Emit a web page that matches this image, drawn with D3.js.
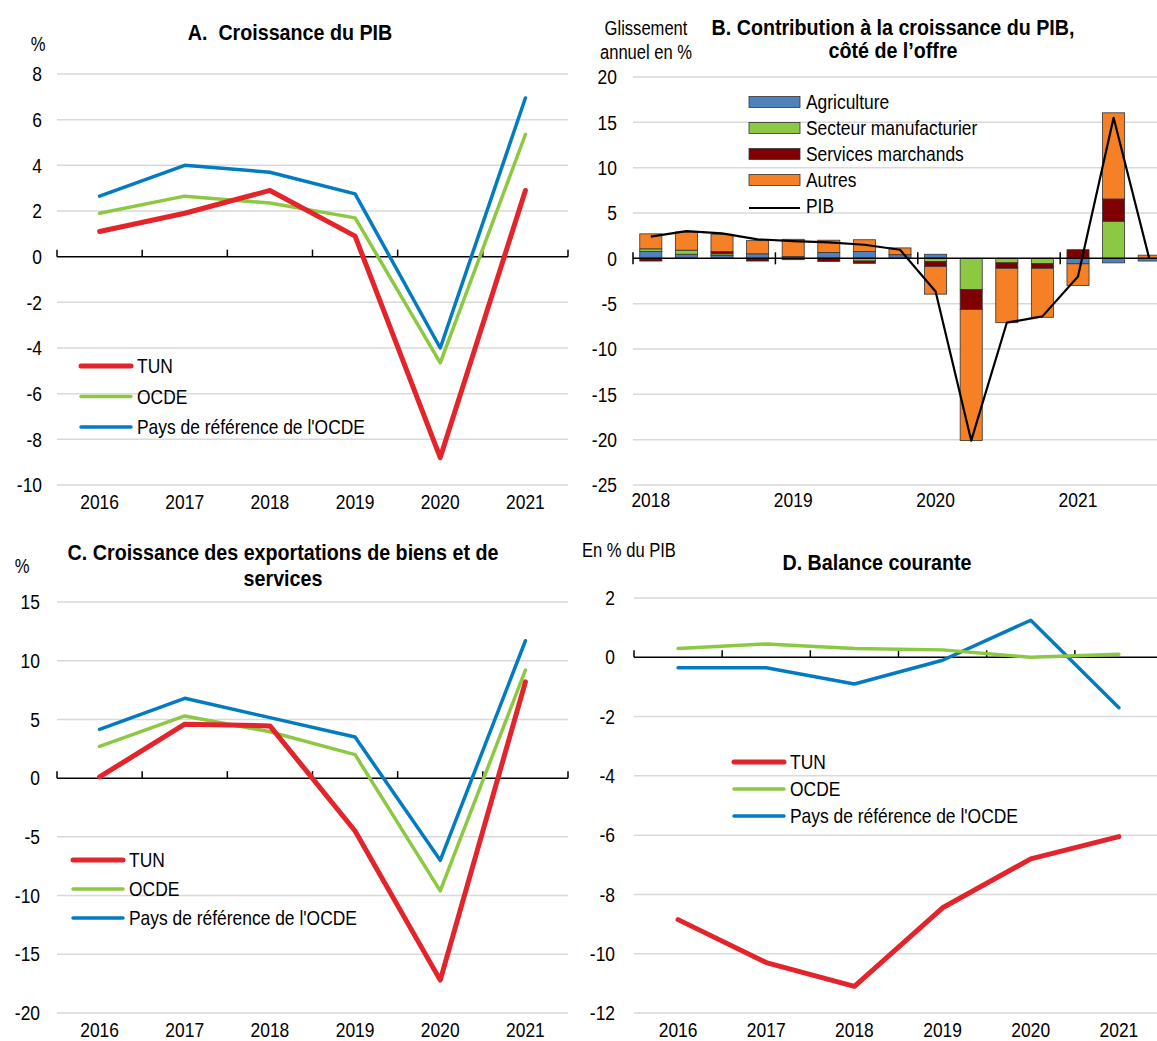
<!DOCTYPE html>
<html>
<head>
<meta charset="utf-8">
<script src="https://cdn.jsdelivr.net/npm/d3@7"></script>
<style>
  body { margin: 0; background: #fff; }
  svg { display: block; font-family: "Liberation Sans Narrow", "Arial Narrow", "Liberation Sans", Arial, sans-serif; }
  text { white-space: pre; }
</style>
</head>
<body>
<script>
// ---- Data ----
const years = ["2016", "2017", "2018", "2019", "2020", "2021"];
const seriesNames = ["TUN", "OCDE", "Pays de référence de l'OCDE"];

// A. Croissance du PIB (%)
const gdpTUN = [1.1, 1.9, 2.9, 0.9, -8.8, 2.9];
const gdpOCDE = [1.9, 2.65, 2.35, 1.7, -4.65, 5.35];
const gdpRef = [2.65, 4.0, 3.7, 2.75, -4.0, 6.95];

// C. Croissance des exportations (%)
const expTUN = [0.1, 4.6, 4.45, -4.5, -17.2, 8.2];
const expOCDE = [2.7, 5.3, 3.95, 2.0, -9.6, 9.2];
const expRef = [4.15, 6.8, 5.15, 3.5, -7.0, 11.7];

// D. Balance courante (% du PIB)
const caTUN = [-8.85, -10.3, -11.1, -8.45, -6.8, -6.05];
const caOCDE = [0.3, 0.45, 0.3, 0.25, 0.0, 0.1];
const caRef = [-0.35, -0.35, -0.9, -0.1, 1.25, -1.7];

// B. Contributions trimestrielles
const quarters = ["2018T1", "2018T2", "2018T3", "2018T4", "2019T1", "2019T2", "2019T3", "2019T4",
  "2020T1", "2020T2", "2020T3", "2020T4", "2021T1", "2021T2", "2021T3"];
const quarterYears = ["2018", "2019", "2020", "2021"];
const agriculture = [0.75, 0.45, 0.3, 0.5, 0.05, 0.65, 0.75, 0.4, 0.45, 0, 0, 0, -0.6, -0.5, -0.3];
const manufacturier = [0.3, 0.45, 0.2, 0, 0.15, 0, -0.3, 0, -0.35, -3.45, -0.5, -0.6, 0, 4.1, 0];
const services = [-0.3, 0, 0.25, -0.3, -0.15, -0.35, -0.25, 0, -0.55, -2.2, -0.6, -0.5, 0.95, 2.45, 0];
const autres = [1.65, 2.0, 1.9, 1.45, 1.9, 1.35, 1.3, 0.75, -3.05, -14.45, -6.0, -5.4, -2.4, 9.5, 0.35];
const pib = [2.4, 3.0, 2.75, 2.1, 1.9, 1.75, 1.5, 0.95, -3.65, -20.1, -7.1, -6.4, -2.0, 15.5, 0.0];
const componentNames = ["Agriculture", "Secteur manufacturier", "Services marchands", "Autres"];

// ---- Style ----
const width = 1157, height = 1041;
const lineColors = ["#E3242B", "#8CC841", "#037BC1"];
const lineWidths = [5, 3.5, 3.5];
const barColors = ["#4F81BD", "#8CC841", "#7F0000", "#F58025"];
const gridColor = "#d9d9d9";
const fontSize = 20.5;
const titleSize = 22;
const squeeze = 0.85;      // no narrow font installed, so squeeze text horizontally
const titleSqueeze = 0.895;

const svg = d3.select("body").append("svg")
  .attr("width", width)
  .attr("height", height);

// place text with a horizontal squeeze (mimics Arial Narrow)
function place(sel, fx, fy, sx = squeeze) {
  const fxv = typeof fx === "function" ? fx : () => fx;
  const fyv = typeof fy === "function" ? fy : () => fy;
  return sel.attr("transform", (d, i) => `translate(${fxv(d, i)},${fyv(d, i)}) scale(${sx},1)`)
    .attr("dy", "0.35em");
}

// Generic line panel (A, C, D)
function linePanel(cfg) {
  const g = svg.append("g");

  const x = d3.scaleBand().domain(years).range([cfg.left, cfg.right]);
  const y = d3.scaleLinear().domain(cfg.domain).range([cfg.bottom, cfg.top]);

  // gridlines
  g.append("g")
    .selectAll("line")
    .data(cfg.ticks.filter(t => t !== 0))
    .join("line")
    .attr("x1", cfg.left).attr("x2", Math.min(cfg.right, width))
    .attr("y1", d => y(d)).attr("y2", d => y(d))
    .attr("stroke", gridColor)
    .attr("stroke-width", 1.5);

  // y labels
  g.append("g")
    .selectAll("text")
    .data(cfg.ticks)
    .join("text")
    .call(place, cfg.labelRight, d => y(d))
    .attr("text-anchor", "end")
    .attr("font-size", fontSize)
    .text(d => d);

  // zero axis + ticks
  g.append("line")
    .attr("x1", cfg.left).attr("x2", cfg.right)
    .attr("y1", y(0)).attr("y2", y(0))
    .attr("stroke", "#000")
    .attr("stroke-width", 1.5);

  const bounds = years.map(d => x(d)).concat([cfg.right]);
  g.append("g")
    .selectAll("line")
    .data(bounds)
    .join("line")
    .attr("x1", d => d).attr("x2", d => d)
    .attr("y1", y(0)).attr("y2", y(0) - 7)
    .attr("stroke", "#000")
    .attr("stroke-width", 1.5);

  // x labels
  g.append("g")
    .selectAll("text")
    .data(years)
    .join("text")
    .call(place, d => x(d) + x.bandwidth() / 2, cfg.xLabelY)
    .attr("text-anchor", "middle")
    .attr("font-size", fontSize)
    .text(d => d);

  // lines (draw blue, green, then red on top)
  const line = d3.line()
    .x((d, i) => x(years[i]) + x.bandwidth() / 2)
    .y(d => y(d));

  [2, 1, 0].forEach(k => {
    g.append("path")
      .datum(cfg.series[k])
      .attr("d", line)
      .attr("fill", "none")
      .attr("stroke", lineColors[k])
      .attr("stroke-width", lineWidths[k])
      .attr("stroke-linejoin", "round")
      .attr("stroke-linecap", "round");
  });

  // legend
  const leg = g.append("g")
    .selectAll("g")
    .data(seriesNames)
    .join("g")
    .attr("transform", (d, i) => `translate(${cfg.legX}, ${cfg.legY + i * cfg.legStep})`);

  leg.append("line")
    .attr("x1", 0).attr("x2", 50)
    .attr("stroke", (d, i) => lineColors[i])
    .attr("stroke-width", (d, i) => lineWidths[i])
    .attr("stroke-linecap", "round");

  leg.append("text")
    .call(place, 56, 0)
    .attr("font-size", fontSize)
    .text(d => d);

  // title
  g.append("g")
    .selectAll("text")
    .data(cfg.title)
    .join("text")
    .call(place, cfg.titleX, (d, i) => cfg.titleY + i * 26, titleSqueeze)
    .attr("text-anchor", "middle")
    .attr("font-size", titleSize)
    .attr("font-weight", "bold")
    .text(d => d);

  // unit label
  g.append("text")
    .call(place, cfg.unitX, cfg.unitY)
    .attr("text-anchor", cfg.unitAnchor || "middle")
    .attr("font-size", fontSize - 1)
    .text(cfg.unit);
}

linePanel({
  left: 57, right: 568, top: 74, bottom: 485,
  domain: [-10, 8], ticks: d3.range(-10, 9, 2),
  labelRight: 42, xLabelY: 502,
  series: [gdpTUN, gdpOCDE, gdpRef],
  legX: 81, legY: 366, legStep: 30.5,
  title: ["A.  Croissance du PIB"], titleX: 290, titleY: 32,
  unit: "%", unitX: 38, unitY: 44
});

linePanel({
  left: 57, right: 568, top: 602, bottom: 1013,
  domain: [-20, 15], ticks: d3.range(-20, 16, 5),
  labelRight: 40, xLabelY: 1030,
  series: [expTUN, expOCDE, expRef],
  legX: 73, legY: 860, legStep: 29,
  title: ["C. Croissance des exportations de biens et de", "services"], titleX: 283, titleY: 552,
  unit: "%", unitX: 22, unitY: 566
});

linePanel({
  left: 634, right: 1163, top: 598, bottom: 1013,
  domain: [-12, 2], ticks: d3.range(-12, 3, 2),
  labelRight: 615, xLabelY: 1030,
  series: [caTUN, caOCDE, caRef],
  legX: 734, legY: 762, legStep: 27,
  title: ["D. Balance courante"], titleX: 877, titleY: 562,
  unit: "En % du PIB", unitX: 582, unitY: 550, unitAnchor: "start"
});

// ---- Panel B: stacked contributions ----
function barPanel() {
  const g = svg.append("g");
  const left = 633, step = 35.6;
  const right = left + step * quarters.length;

  const x = d3.scaleBand().domain(quarters).range([left, right]).paddingInner(0.38).paddingOuter(0.19);
  const y = d3.scaleLinear().domain([-25, 20]).range([485, 77]);
  const ticks = d3.range(-25, 21, 5);

  g.append("g")
    .selectAll("line")
    .data(ticks.filter(t => t !== 0))
    .join("line")
    .attr("x1", left).attr("x2", width)
    .attr("y1", d => y(d)).attr("y2", d => y(d))
    .attr("stroke", gridColor)
    .attr("stroke-width", 1.5);

  g.append("g")
    .selectAll("text")
    .data(ticks)
    .join("text")
    .call(place, 617, d => y(d))
    .attr("text-anchor", "end")
    .attr("font-size", fontSize)
    .text(d => d);

  // stacked bars
  const table = quarters.map((q, i) => ({
    q,
    Agriculture: agriculture[i],
    "Secteur manufacturier": manufacturier[i],
    "Services marchands": services[i],
    Autres: autres[i]
  }));
  const stacked = d3.stack().keys(componentNames).offset(d3.stackOffsetDiverging)(table);

  g.append("g")
    .selectAll("g")
    .data(stacked)
    .join("g")
    .attr("fill", (d, i) => barColors[i])
    .selectAll("rect")
    .data(d => d.filter(s => s[1] !== s[0]))
    .join("rect")
    .attr("x", d => x(d.data.q))
    .attr("width", x.bandwidth())
    .attr("y", d => y(Math.max(d[0], d[1])))
    .attr("height", d => Math.abs(y(d[0]) - y(d[1])))
    .attr("stroke", "#333")
    .attr("stroke-width", 0.8);

  // zero axis and year ticks
  g.append("line")
    .attr("x1", left).attr("x2", width)
    .attr("y1", y(0)).attr("y2", y(0))
    .attr("stroke", "#000")
    .attr("stroke-width", 1.5);

  g.append("g")
    .selectAll("line")
    .data(quarterYears)
    .join("line")
    .attr("x1", (d, i) => left + i * 4 * step)
    .attr("x2", (d, i) => left + i * 4 * step)
    .attr("y1", y(0) - 6).attr("y2", y(0) + 6)
    .attr("stroke", "#000")
    .attr("stroke-width", 1.5);

  g.append("g")
    .selectAll("text")
    .data(quarterYears)
    .join("text")
    .call(place, d => x(d + "T1") + x.bandwidth() / 2, 500)
    .attr("text-anchor", "middle")
    .attr("font-size", fontSize)
    .text(d => d);

  // PIB line
  g.append("path")
    .datum(pib)
    .attr("d", d3.line()
      .x((d, i) => x(quarters[i]) + x.bandwidth() / 2)
      .y(d => y(d)))
    .attr("fill", "none")
    .attr("stroke", "#000")
    .attr("stroke-width", 2.2)
    .attr("stroke-linejoin", "round");

  // legend
  const legNames = componentNames.concat(["PIB"]);
  const leg = g.append("g")
    .selectAll("g")
    .data(legNames)
    .join("g")
    .attr("transform", (d, i) => `translate(749, ${102 + i * 26})`);

  leg.filter((d, i) => i < 4)
    .append("rect")
    .attr("y", -5.5)
    .attr("width", 51)
    .attr("height", 11)
    .attr("fill", (d, i) => barColors[i])
    .attr("stroke", "#333")
    .attr("stroke-width", 0.8);

  leg.filter(d => d === "PIB")
    .append("line")
    .attr("x1", 0).attr("x2", 51)
    .attr("y1", 2).attr("y2", 2)
    .attr("stroke", "#000")
    .attr("stroke-width", 2);

  leg.append("text")
    .call(place, 57, 0)
    .attr("font-size", fontSize)
    .text(d => d);

  // title and unit
  g.append("g")
    .selectAll("text")
    .data(["B. Contribution à la croissance du PIB,", "côté de l’offre"])
    .join("text")
    .call(place, 893, (d, i) => 27 + i * 23, titleSqueeze)
    .attr("text-anchor", "middle")
    .attr("font-size", titleSize)
    .attr("font-weight", "bold")
    .text(d => d);

  g.append("g")
    .selectAll("text")
    .data(["Glissement", "annuel en %"])
    .join("text")
    .call(place, 646, (d, i) => 28 + i * 24)
    .attr("text-anchor", "middle")
    .attr("font-size", fontSize - 1)
    .text(d => d);
}

barPanel();
</script>
</body>
</html>
